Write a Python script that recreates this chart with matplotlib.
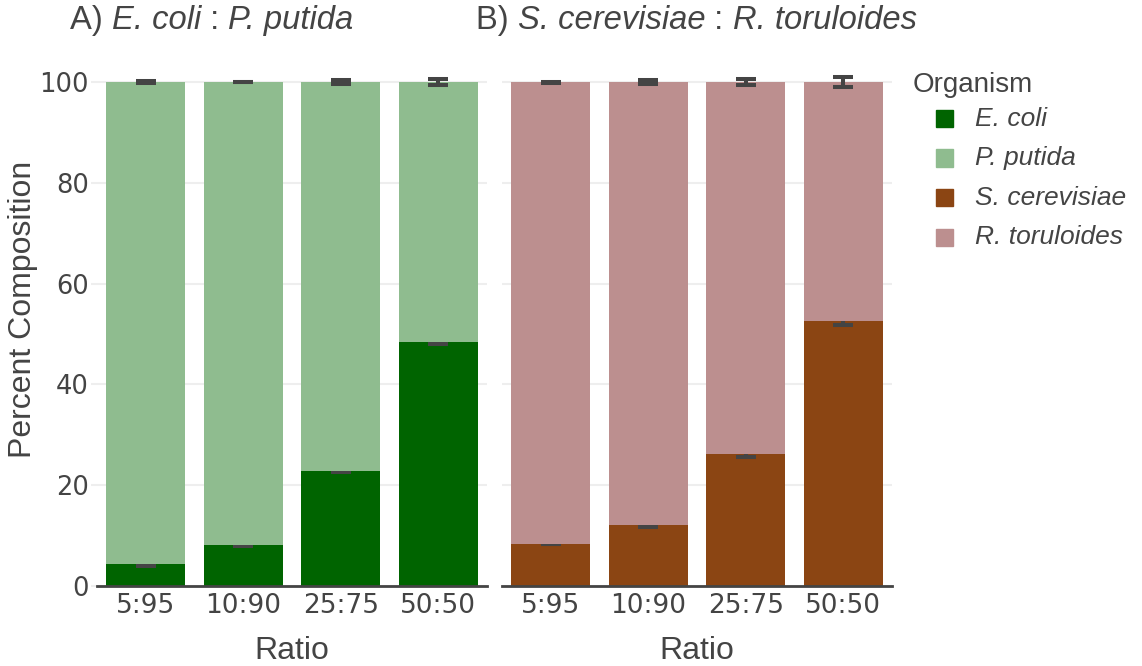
import numpy as np
import matplotlib
matplotlib.use('Agg')
import matplotlib.pyplot as plt
from matplotlib.patches import Rectangle

plt.rcParams['font.family'] = 'Liberation Sans'

# ---- data ----
ratios = ['5:95', '10:90', '25:75', '50:50']

ecoli = [4.4, 8.1, 22.9, 48.4]
ecoli_err = [0.4, 0.1, 0.26, 0.46]
putida = [95.6, 91.9, 77.1, 51.6]
putida_err = [0.25, 0.05, 0.37, 0.66]

scer = [8.3, 12.1, 26.2, 52.6]
scer_err = [0.05, 0.33, 0.66, 0.8]
rtor = [91.7, 87.9, 73.8, 47.4]
rtor_err = [0.1, 0.37, 0.66, 1.0]

organisms = ['E. coli', 'P. putida', 'S. cerevisiae', 'R. toruloides']
colors = ['#006400', '#8fbc8f', '#8b4513', '#bc8f8f']

TXT = '#444444'
W, H = 1142, 666

fig = plt.figure(figsize=(W / 100, H / 100), dpi=100)


def px_axes(left, right, bottom, top):
    return fig.add_axes([left / W, 1 - bottom / H, (right - left) / W, (bottom - top) / H])


def draw_panel(ax, low, low_err, up, up_err, c_low, c_up):
    x = np.arange(len(ratios))
    ax.bar(x, low, 0.81, color=c_low, zorder=2)
    ax.errorbar(x, low, yerr=low_err, fmt='none', ecolor=TXT, elinewidth=2.9,
                capsize=7, capthick=2.9, zorder=2.5)
    ax.bar(x, up, 0.81, bottom=low, color=c_up, zorder=3)
    ax.errorbar(x, np.add(low, up), yerr=up_err, fmt='none', ecolor=TXT, elinewidth=2.9,
                capsize=7, capthick=2.9, zorder=4)
    ax.set_xlim(-0.5, len(ratios) - 0.5)
    ax.set_ylim(0, 102.4)
    ax.set_yticks([0, 20, 40, 60, 80, 100])
    ax.yaxis.grid(True, color='#eeeeee', lw=1.5, zorder=0.5)
    ax.set_axisbelow(True)
    for s in ['top', 'right', 'left']:
        ax.spines[s].set_visible(False)
    ax.spines['bottom'].set_color(TXT)
    ax.spines['bottom'].set_linewidth(2)
    ax.spines['bottom'].set_zorder(5)
    ax.set_xticks(x)
    ax.set_xticklabels(ratios, fontfamily='DejaVu Sans', fontsize=19, color=TXT)
    ax.tick_params(axis='x', length=0, pad=5)
    ax.set_xlabel('Ratio', fontsize=23, color=TXT)
    ax.xaxis.set_label_coords(0.5, -0.097)


def rich_title(x_px, y_px, pieces):
    # pieces: list of (text, style); laid out one after the other
    r = fig.canvas.get_renderer()
    x = x_px
    for s, st in pieces:
        t = fig.text(x / W, 1 - y_px / H, s, fontsize=23.6, color=TXT, style=st, va='baseline')
        x += t.get_window_extent(renderer=r).width


axA = px_axes(97, 487, 586, 70)
draw_panel(axA, ecoli, ecoli_err, putida, putida_err, colors[0], colors[1])
axA.tick_params(axis='y', length=4, width=1.5, color='#eeeeee', pad=2,
                labelsize=18.5, labelcolor=TXT)
for lab in axA.get_yticklabels():
    lab.set_fontfamily('DejaVu Sans')
axA.set_ylabel('Percent Composition', fontsize=23, color=TXT)
axA.yaxis.set_label_coords(-0.151, 0.537)

axB = px_axes(502, 892, 586, 70)
draw_panel(axB, scer, scer_err, rtor, rtor_err, colors[2], colors[3])
axB.tick_params(axis='y', length=0, labelleft=False)

# panel titles
rich_title(70, 29, [('A) ', 'normal'), (organisms[0], 'italic'), (' : ', 'normal'),
                    (organisms[1], 'italic')])
rich_title(476, 29, [('B) ', 'normal'), (organisms[2], 'italic'), (' : ', 'normal'),
                     (organisms[3], 'italic')])

# legend
fig.text(913 / W, 1 - 92 / H, 'Organism', fontsize=20, color=TXT, va='baseline')
for i, (name, col) in enumerate(zip(organisms, colors)):
    y0 = 127 + 39.5 * i
    fig.add_artist(Rectangle((936 / W, 1 - y0 / H), 17 / W, 17 / H,
                             transform=fig.transFigure, color=col))
    fig.text(975 / W, 1 - (y0 - 1) / H, name, fontsize=19, style='italic',
             color=TXT, va='baseline')

fig.savefig('out.png', dpi=100)
